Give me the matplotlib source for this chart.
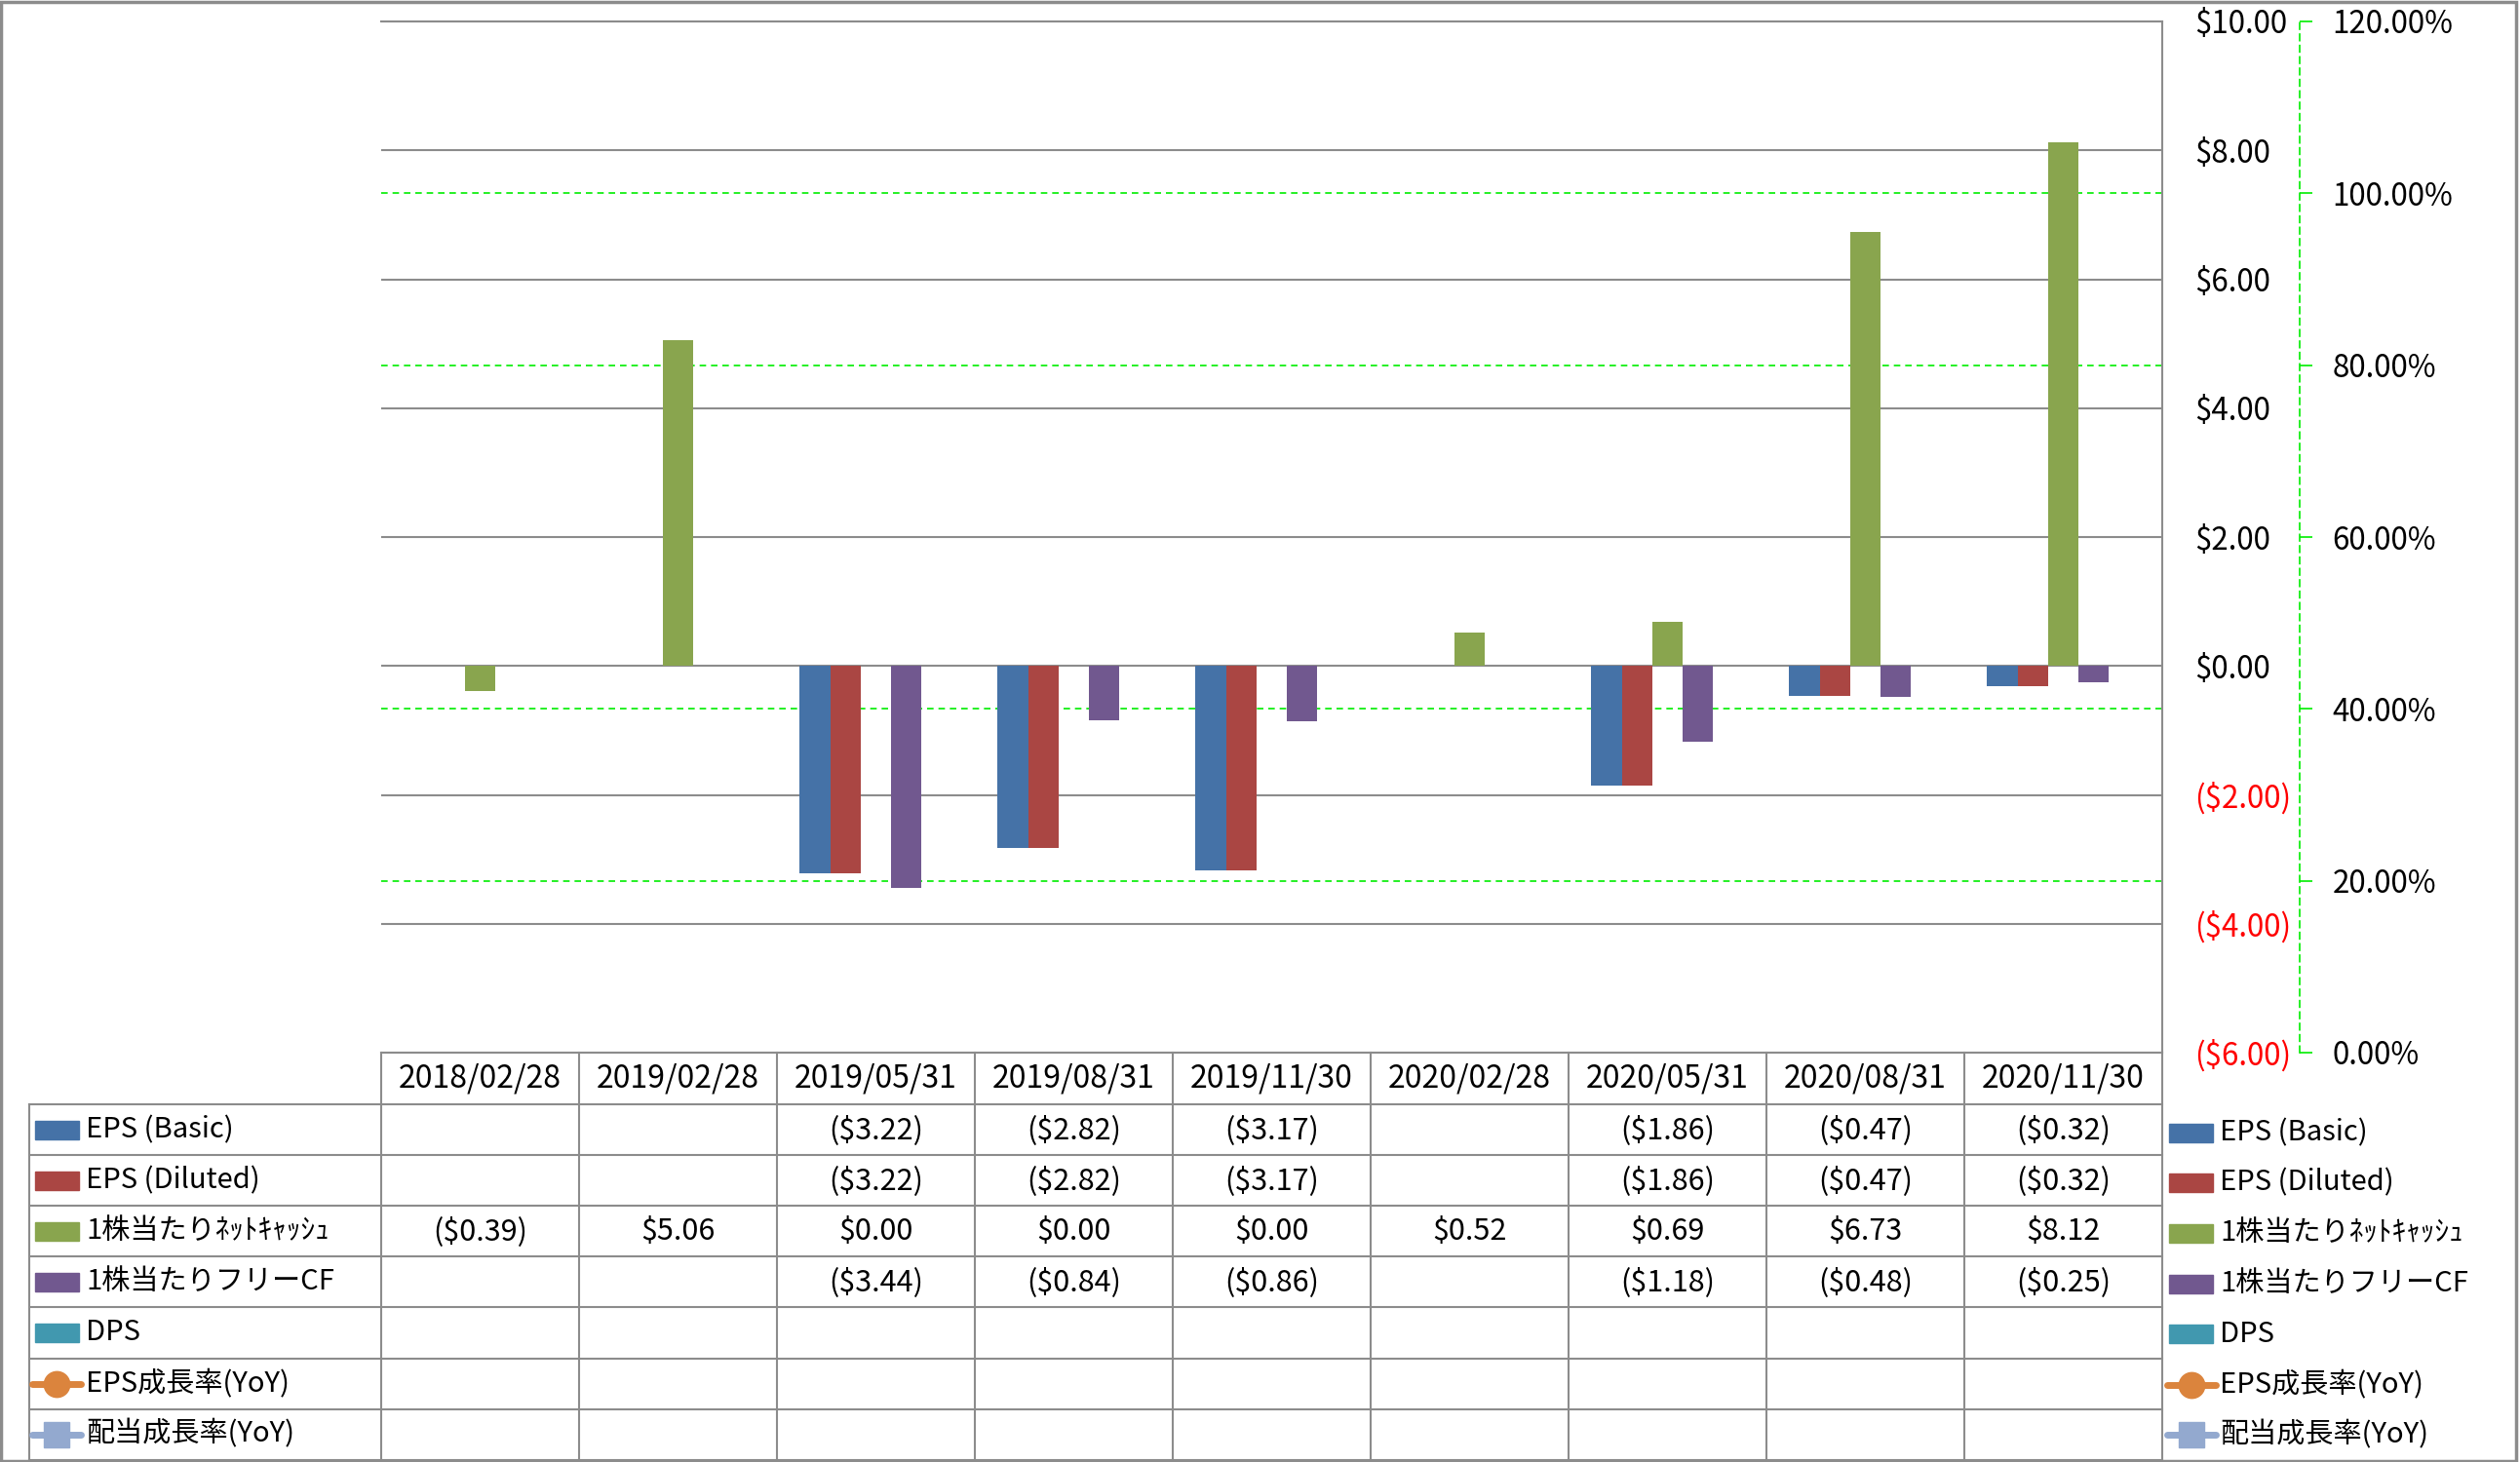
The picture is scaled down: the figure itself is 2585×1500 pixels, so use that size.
import numpy as np
import matplotlib
matplotlib.use('Agg')
import matplotlib.pyplot as plt
import matplotlib.transforms as mtransforms
from matplotlib.patches import Rectangle
from matplotlib.lines import Line2D

plt.rcParams['font.family'] = ['Noto Sans CJK JP', 'DejaVu Sans']

# data
dates = ['2018/02/28', '2019/02/28', '2019/05/31', '2019/08/31', '2019/11/30',
         '2020/02/28', '2020/05/31', '2020/08/31', '2020/11/30']
nan = np.nan
eps_basic = [nan, nan, -3.22, -2.82, -3.17, nan, -1.86, -0.47, -0.32]
eps_diluted = [nan, nan, -3.22, -2.82, -3.17, nan, -1.86, -0.47, -0.32]
net_cash = [-0.39, 5.06, 0.00, 0.00, 0.00, 0.52, 0.69, 6.73, 8.12]
free_cf = [nan, nan, -3.44, -0.84, -0.86, nan, -1.18, -0.48, -0.25]
dps = [nan] * 9
eps_growth = [nan] * 9
div_growth = [nan] * 9

bar_series = [('EPS (Basic)', eps_basic, '#4572A7'),
              ('EPS (Diluted)', eps_diluted, '#AA4643'),
              ('1株当たりﾈｯﾄｷｬｯｼｭ', net_cash, '#89A54E'),
              ('1株当たりフリーCF', free_cf, '#71588F'),
              ('DPS', dps, '#4198AF')]
line_series = [('EPS成長率(YoY)', eps_growth, '#DB843D', 'o'),
               ('配当成長率(YoY)', div_growth, '#93A9CF', 's')]

W, H = 2585, 1500
fig = plt.figure(figsize=(W / 100, H / 100), dpi=100)
grey = '#8c8c8c'

def fx(px):
    return px / W

def fy(py):
    return 1 - py / H

ax_l, ax_r, ax_t, ax_b = 391, 2218, 22, 1080
ax = fig.add_axes([fx(ax_l), fy(ax_b), fx(ax_r - ax_l), (ax_b - ax_t) / H])
ax2 = ax.twinx()
ax.set_zorder(ax2.get_zorder() + 1)
ax.patch.set_visible(False)

x = np.arange(len(dates))
bw = 1 / 6.5
for i, (name, vals, col) in enumerate(bar_series):
    ax.bar(x + (i - 2) * bw, vals, bw, color=col, zorder=3)

ax.set_xlim(-0.5, len(dates) - 0.5)
ax.set_ylim(-6, 10)
yt = np.arange(-6, 11, 2)
ax.set_yticks(yt)
ax.yaxis.tick_right()
ax.set_yticklabels([('($%.2f)' % -v) if v < 0 else ('$%.2f' % v) for v in yt])
for lab, v in zip(ax.get_yticklabels(), yt):
    lab.set_color('red' if v < 0 else 'black')
ax.tick_params(axis='y', length=0, pad=24, labelsize=22.5)
ax.set_xticks([])
ax.grid(axis='y', color=grey, lw=1.5)
ax.set_axisbelow(True)
ax.spines['left'].set_visible(False)
for s in ['top', 'bottom', 'right']:
    ax.spines[s].set_color(grey)
    ax.spines[s].set_linewidth(1.5)

ax2.set_ylim(0, 1.2)
pct = np.arange(0, 1.21, 0.2)
ax2.set_yticks(pct)
ax2.set_yticklabels(['%.2f%%' % (p * 100) for p in pct])
for name, vals, col, mk in line_series:
    ax2.plot(x, vals, color=col, marker=mk)
for s in ['left', 'top', 'bottom']:
    ax2.spines[s].set_visible(False)
ax2.spines['right'].set_position(('axes', (2359 - ax_l) / (ax_r - ax_l)))
ax2.spines['right'].set_color('#00ee00')
ax2.spines['right'].set_linestyle((0, (4, 3)))
ax2.spines['right'].set_linewidth(1.2)
ax2.tick_params(axis='y', length=9, width=1.2, color='#00ee00', pad=15, labelsize=22.5)
ax2.grid(axis='y', color='#00ee00', ls=(0, (4, 3)), lw=1.2)

# table under the plot
tb = mtransforms.blended_transform_factory(ax.transData, fig.transFigure)
rows_y = [1133 + k * 52.1 for k in range(8)]
for k in range(len(dates) + 1):
    ax.plot([k - 0.5, k - 0.5], [fy(ax_b), fy(1498)], transform=tb, color=grey,
            lw=1.5, clip_on=False)
fig.add_artist(Line2D([fx(30), fx(30)], [fy(rows_y[0]), fy(1498)], color=grey, lw=1.5))
for yy in rows_y:
    fig.add_artist(Line2D([fx(30), fx(ax_r)], [fy(yy), fy(yy)], color=grey, lw=1.5))

for j, d in enumerate(dates):
    ax.text(j, fy((ax_b + rows_y[0]) / 2), d, transform=tb, ha='center', va='center',
            fontsize=23)

def money(v):
    if np.isnan(v):
        return ''
    return ('($%.2f)' % -v) if v < 0 else ('$%.2f' % v)

def key(x0, x1, yc, col, mk):
    # legend key drawn in figure pixels
    if mk is None:
        fig.add_artist(Rectangle((fx(x0), fy(yc + 9.5)), fx(x1 - x0), 19 / H, color=col))
    else:
        fig.add_artist(Line2D([fx(x0), fx(x1)], [fy(yc), fy(yc)], color=col, lw=5,
                              solid_capstyle='round'))
        fig.add_artist(Line2D([fx((x0 + x1) / 2)], [fy(yc)], color=col, marker=mk,
                              markersize=19, lw=0))

all_series = [(n, v, c, None) for n, v, c in bar_series] + line_series
for r, (name, vals, col, mk) in enumerate(all_series):
    yc = (rows_y[r] + rows_y[r + 1]) / 2
    for j, v in enumerate(vals):
        ax.text(j, fy(yc), money(v), transform=tb, ha='center', va='center', fontsize=22)
    if mk is None:
        key(36, 81, yc, col, None)
    else:
        key(33, 83, yc, col, mk)
    fig.text(fx(88), fy(yc), name, ha='left', va='center', fontsize=21)

# legend at right
for r, (name, vals, col, mk) in enumerate(all_series):
    yc = 1162 + r * 51.7
    if mk is None:
        key(2225, 2270, yc, col, None)
    else:
        key(2223, 2273, yc, col, mk)
    fig.text(fx(2277), fy(yc), name, ha='left', va='center', fontsize=21)

# outer frame
fig.add_artist(Rectangle((0.0005, 0.001), 0.998, 0.998, fill=False, edgecolor=grey, lw=2.5))

fig.savefig('out.png', dpi=100)
